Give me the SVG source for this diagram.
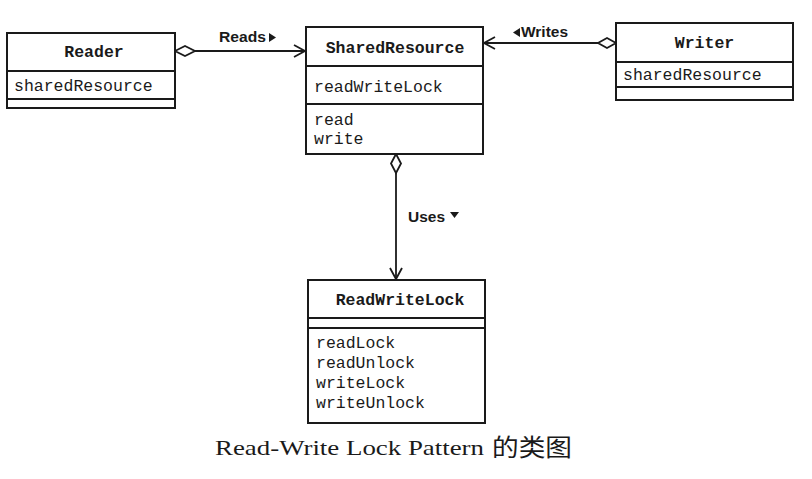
<svg xmlns="http://www.w3.org/2000/svg" width="812" height="479" viewBox="0 0 812 479">
<style>
.box{fill:#fff;stroke:#1a1a1a;stroke-width:2}
.div{stroke:#1a1a1a;stroke-width:1.8}
.title{font-family:"Liberation Mono","Courier New",monospace;font-weight:bold;font-size:16.5px;fill:#1a1a1a}
.mem{font-family:"Liberation Mono","Courier New",monospace;font-size:16.5px;fill:#1a1a1a}
.edge{stroke:#1a1a1a;stroke-width:1.8;fill:none}
.lbl{font-family:"Liberation Sans",Arial,sans-serif;font-weight:bold;font-size:15px;fill:#1a1a1a}
.cap{font-family:"Liberation Serif","Noto Sans CJK SC",serif;font-size:22px;fill:#1a1a1a}
.capz{font-family:"Noto Sans CJK SC",sans-serif;font-size:24px;fill:#1a1a1a}
</style>
<defs>
<marker id="open" markerWidth="14" markerHeight="14" refX="12" refY="7" orient="auto" markerUnits="userSpaceOnUse">
<path d="M1,1 L12,7 L1,13" fill="none" stroke="#1a1a1a" stroke-width="1.8"/>
</marker>
</defs>
<rect width="812" height="479" fill="#fff"/>
<g id="connectors">
<g id="reads">
<path class="edge" d="M175,51 L185,46 L195,51 L185,56 Z"/>
<line class="edge" x1="195" y1="51" x2="305" y2="51" marker-end="url(#open)"/>
<text class="lbl" x="219" y="42" textLength="47" lengthAdjust="spacingAndGlyphs">Reads</text>
<path d="M269,33 L276,37.5 L269,42 Z" fill="#1a1a1a"/>
</g>
<g id="writes">
<path class="edge" d="M616,43 L607,38 L598,43 L607,48 Z"/>
<line class="edge" x1="598" y1="43" x2="484" y2="43" marker-end="url(#open)"/>
<path d="M520,28 L513,32.5 L520,37 Z" fill="#1a1a1a"/>
<text class="lbl" x="521" y="37" textLength="47" lengthAdjust="spacingAndGlyphs">Writes</text>
</g>
<g id="uses">
<path class="edge" d="M396,154 L391,163.5 L396,173 L401,163.5 Z"/>
<line class="edge" x1="396" y1="173" x2="396" y2="279" marker-end="url(#open)"/>
<text class="lbl" x="408" y="222" textLength="37" lengthAdjust="spacingAndGlyphs">Uses</text>
<path d="M450,212 L459,212 L454.5,218 Z" fill="#1a1a1a"/>
</g>
</g>
<g id="Reader">
<rect class="box" x="7" y="33" width="168" height="75"/>
<line class="div" x1="7" y1="71" x2="175" y2="71"/>
<line class="div" x1="7" y1="99" x2="175" y2="99"/>
<text class="title" x="94" y="57" text-anchor="middle">Reader</text>
<text class="mem" x="14" y="91">sharedResource</text>
</g>
<g id="SharedResource">
<rect class="box" x="306" y="27" width="177" height="127"/>
<line class="div" x1="306" y1="66" x2="483" y2="66"/>
<line class="div" x1="306" y1="104" x2="483" y2="104"/>
<text class="title" x="395" y="53" text-anchor="middle">SharedResource</text>
<text class="mem" x="314" y="92">readWriteLock</text>
<text class="mem" x="314" y="125">read</text>
<text class="mem" x="314" y="144">write</text>
</g>
<g id="Writer">
<rect class="box" x="616" y="23" width="177" height="77"/>
<line class="div" x1="616" y1="62" x2="793" y2="62"/>
<line class="div" x1="616" y1="87" x2="793" y2="87"/>
<text class="title" x="704.5" y="48" text-anchor="middle">Writer</text>
<text class="mem" x="623" y="80">sharedResource</text>
</g>
<g id="ReadWriteLock">
<rect class="box" x="308" y="280" width="177" height="143"/>
<line class="div" x1="308" y1="318" x2="485" y2="318"/>
<line class="div" x1="308" y1="328" x2="485" y2="328"/>
<text class="title" x="400" y="305" text-anchor="middle">ReadWriteLock</text>
<text class="mem" x="316" y="348">readLock</text>
<text class="mem" x="316" y="368">readUnlock</text>
<text class="mem" x="316" y="388">writeLock</text>
<text class="mem" x="316" y="408">writeUnlock</text>
</g>
<g id="caption">
<text class="cap" x="215" y="455" textLength="269" lengthAdjust="spacingAndGlyphs">Read-Write Lock Pattern</text>
<text class="capz" x="492" y="456" textLength="80" lengthAdjust="spacingAndGlyphs">的类图</text>
</g>
</svg>
